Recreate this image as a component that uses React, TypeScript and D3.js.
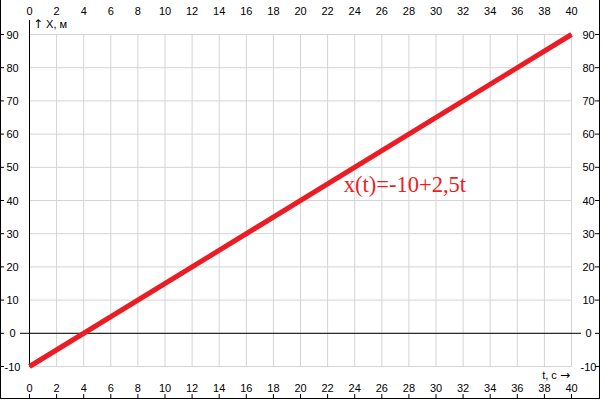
import React from "react";
import * as d3 from "d3";

const tTicks = d3.range(0, 41, 2);
const yTicks = d3.range(-10, 91, 10);
const lineT = [0, 40];
const lineX = [-10, 90];
const formulaLabel = "x(t)=-10+2,5t";
const formulaPos = { t: 23.2, x: 42.6 };
const upArrow = "↑";
const yAxisText = " X, м";
const xAxisText = "t, с ";
const rightArrow = "→";

export default function App() {
  const W = 605, H = 406;
  const x = d3.scaleLinear().domain([0, 40]).range([29.5, 571.5]);
  const y = d3.scaleLinear().domain([-10, 90]).range([366.5, 34.5]);
  const pts = lineT.map((t, i) => [x(t), y(lineX[i])] as [number, number]);
  const line = d3.line()(pts) || "";
  const font = "'Liberation Sans', Arial, sans-serif";
  const arrowFont = "'DejaVu Sans', sans-serif";
  const grid = "#d4d4d4";
  return (
    <svg width={W} height={H} style={{ position: "fixed", left: 0, top: 0, background: "#fff" }}>
      <rect x={0} y={0} width={W} height={H} fill="#fff" />
      {/* grid */}
      {tTicks.map((t) => (
        <line key={"vx" + t} x1={x(t)} x2={x(t)} y1={y(90)} y2={y(-10)} stroke={grid} strokeWidth={1} />
      ))}
      {yTicks.map((v) => (
        <line key={"hy" + v} x1={x(0)} x2={x(40)} y1={y(v)} y2={y(v)} stroke={grid} strokeWidth={1} />
      ))}
      {/* axes */}
      <line x1={x(0)} x2={x(0)} y1={20} y2={y(-10)} stroke="#000" strokeWidth={1} />
      <line x1={20} x2={581} y1={y(0)} y2={y(0)} stroke="#000" strokeWidth={1} />
      {/* outer frame */}
      <line x1={0.5} x2={0.5} y1={0} y2={399} stroke="#000" strokeWidth={1} />
      <line x1={599.5} x2={599.5} y1={0} y2={399} stroke="#000" strokeWidth={1} />
      <line x1={0} x2={600} y1={398.5} y2={398.5} stroke="#000" strokeWidth={1} />
      {/* frame ticks */}
      {yTicks.map((v) => (
        <g key={"fy" + v}>
          <line x1={1} x2={4} y1={y(v)} y2={y(v)} stroke="#000" strokeWidth={1} />
          <line x1={595} x2={599} y1={y(v)} y2={y(v)} stroke="#000" strokeWidth={1} />
        </g>
      ))}
      {tTicks.map((t) => (
        <line key={"fx" + t} x1={x(t)} x2={x(t)} y1={394} y2={398} stroke="#000" strokeWidth={1} />
      ))}
      {/* tick labels */}
      {tTicks.map((t) => (
        <g key={"lx" + t} fontFamily={font} fontSize={11} fill="#000" textAnchor="middle">
          <text x={x(t)} y={15}>{t}</text>
          <text x={x(t)} y={392}>{t}</text>
        </g>
      ))}
      {yTicks.map((v) => (
        <g key={"ly" + v} fontFamily={font} fontSize={11} fill="#000" textAnchor="middle">
          <text x={12.5} y={y(v) + 4}>{v}</text>
          <text x={588.5} y={y(v) + 4}>{v}</text>
        </g>
      ))}
      {/* axis labels */}
      <text x={33} y={28} fontFamily={font} fontSize={11} fill="#000">
        <tspan fontFamily={arrowFont} fontSize={12}>{upArrow}</tspan>
        <tspan>{yAxisText}</tspan>
      </text>
      <text x={570} y={379} fontFamily={font} fontSize={11} fill="#000" textAnchor="end">
        <tspan>{xAxisText}</tspan>
        <tspan fontFamily={arrowFont} fontSize={12}>{rightArrow}</tspan>
      </text>
      {/* data line */}
      <path d={line} stroke="#555" strokeWidth={1} fill="none" />
      <path d={line} stroke="#ec1c24" strokeWidth={5} fill="none" />
      <text x={x(formulaPos.t)} y={y(formulaPos.x)} fontFamily="'Liberation Serif', 'Times New Roman', serif" fontSize={22.5} fill="#ec1c24">
        {formulaLabel}
      </text>
    </svg>
  );
}
